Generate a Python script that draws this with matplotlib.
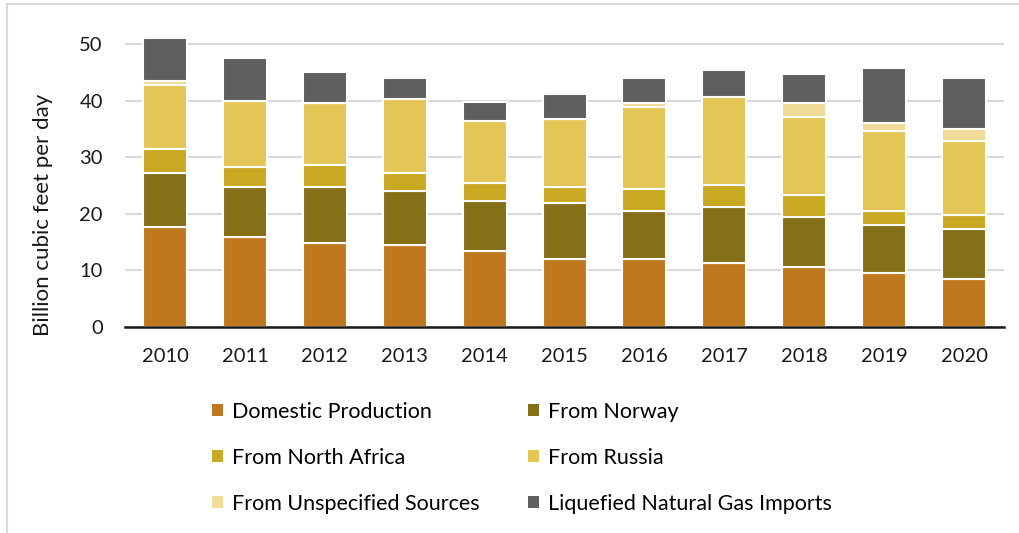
import matplotlib.pyplot as plt
import numpy as np
from matplotlib.patches import Patch, Rectangle

plt.rcParams['font.family'] = ['Lato', 'DejaVu Sans']

years = ['2010', '2011', '2012', '2013', '2014', '2015', '2016', '2017', '2018', '2019', '2020']
domestic = [17.7, 15.9, 14.8, 14.5, 13.4, 12.0, 12.0, 11.3, 10.6, 9.5, 8.5]
norway = [9.5, 8.8, 9.9, 9.5, 8.9, 9.9, 8.5, 9.9, 8.8, 8.5, 8.8]
north_africa = [4.2, 3.6, 3.9, 3.2, 3.1, 2.8, 3.9, 3.9, 3.9, 2.5, 2.5]
russia = [11.4, 11.6, 11.0, 13.1, 11.0, 12.0, 14.5, 15.5, 13.8, 14.1, 13.1]
unspecified = [0.7, 0.0, 0.0, 0.0, 0.0, 0.0, 0.7, 0.0, 2.5, 1.4, 2.1]
lng = [7.6, 7.6, 5.5, 3.7, 3.4, 4.5, 4.4, 4.8, 5.1, 9.8, 9.0]

series = [domestic, norway, north_africa, russia, unspecified, lng]
labels = ['Domestic Production', 'From Norway', 'From North Africa', 'From Russia',
          'From Unspecified Sources', 'Liquefied Natural Gas Imports']
colors = ['#C0781E', '#857017', '#C9A822', '#E3C655', '#F0DC98', '#5F5F5F']

fig = plt.figure(figsize=(10.19, 5.33), dpi=100)
ax = fig.add_axes([0.1227, 0.3865, 0.8626, 0.584])

x = np.arange(len(years))
bottom = np.zeros(len(years))
for vals, c in zip(series, colors):
    ax.bar(x, vals, 0.55, bottom=bottom, color=c, edgecolor='white', linewidth=1.5, zorder=3)
    bottom += np.array(vals)

ax.set_xlim(-0.5, 10.5)
ax.set_ylim(0, 55)
ax.set_yticks([0, 10, 20, 30, 40, 50])
ax.set_xticks(x)
ax.set_xticklabels(years)
ax.grid(axis='y', color='#d9d9d9', linewidth=1.5, zorder=0)
for s in ['top', 'right', 'left']:
    ax.spines[s].set_visible(False)
ax.spines['bottom'].set_color('#1a1a1a')
ax.spines['bottom'].set_linewidth(1.8)
ax.spines['bottom'].set_zorder(4)
ax.tick_params(axis='both', length=0, labelsize=14.5, colors='#1a1a1a')
ax.tick_params(axis='x', pad=15)
ax.tick_params(axis='y', pad=16)
ax.set_ylabel('Billion cubic feet per day', fontsize=16, color='#1a1a1a')
ax.yaxis.set_label_coords(-0.082, 0.36)

order = [0, 2, 4, 1, 3, 5]
handles = [Patch(facecolor=colors[i], edgecolor='none') for i in order]
fig.legend(handles, [labels[i] for i in order], ncol=2, loc='upper left',
           bbox_to_anchor=(212 / 1019, 0.246), frameon=False, fontsize=15.5,
           borderpad=0, borderaxespad=0,
           handlelength=0.51, handleheight=0.51, handletextpad=0.42,
           labelspacing=1.2, columnspacing=2.23)

fig.patches.append(Rectangle((0.007, -0.05), 1.1, 1.043, transform=fig.transFigure,
                             fill=False, edgecolor='#d9d9d9', linewidth=1.5))

fig.savefig('out.png', dpi=100)
